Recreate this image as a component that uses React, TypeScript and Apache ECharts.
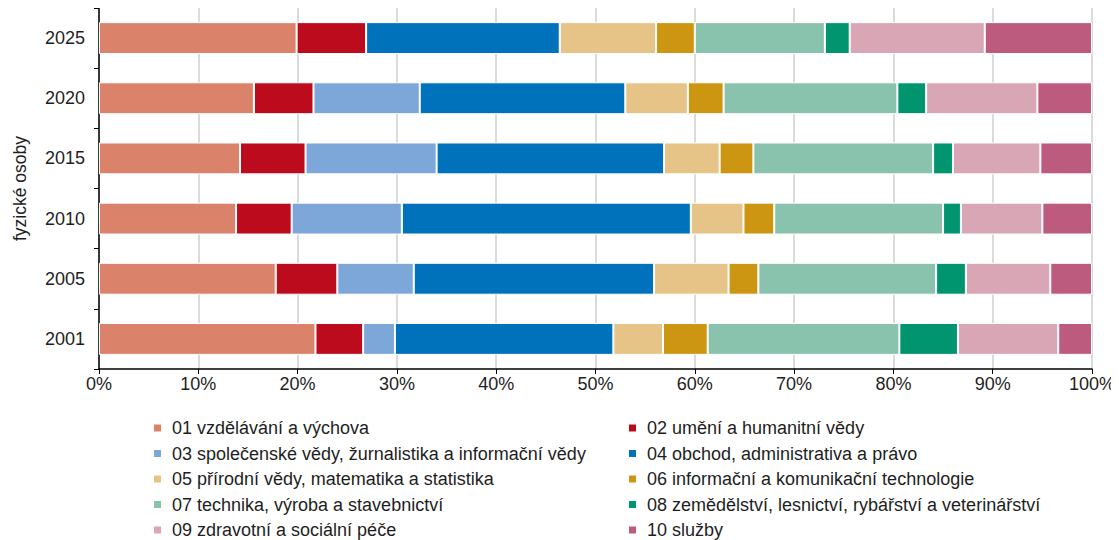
import React, { useEffect, useRef } from "react";
import * as echarts from "echarts";

const years = ["2001", "2005", "2010", "2015", "2020", "2025"];
const seriesNames = [
  "01 vzdělávání a výchova",
  "02 umění a humanitní vědy",
  "03 společenské vědy, žurnalistika a informační vědy",
  "04 obchod, administrativa a právo",
  "05 přírodní vědy, matematika a statistika",
  "06 informační a komunikační technologie",
  "07 technika, výroba a stavebnictví",
  "08 zemědělství, lesnictví, rybářství a veterinářství",
  "09 zdravotní a sociální péče",
  "10 služby",
];
const colors = [
  "#DB836A", "#BD0B1E", "#7DA7D8", "#0072BC", "#E6C488",
  "#CD9612", "#89C3AE", "#00956F", "#D8A6B5", "#BC5B7E",
];
// values per field, ordered as years (2001 … 2025), in % of total
const s01 = [21.8, 17.8, 13.8, 14.2, 15.6, 19.9];
const s02 = [4.8, 6.2, 5.6, 6.6, 6.0, 7.0];
const s03 = [3.2, 7.7, 11.1, 13.2, 10.7, 0];
const s04 = [22.0, 24.2, 29.1, 22.9, 20.7, 19.5];
const s05 = [5.0, 7.5, 5.3, 5.6, 6.3, 9.7];
const s06 = [4.5, 3.0, 3.1, 3.4, 3.6, 3.9];
const s07 = [19.3, 17.9, 17.0, 18.1, 17.5, 13.1];
const s08 = [5.9, 3.0, 1.8, 2.0, 2.9, 2.5];
const s09 = [10.1, 8.5, 8.2, 8.8, 11.2, 13.6];
const s10 = [3.4, 4.2, 5.0, 5.2, 5.5, 10.8];
const allValues = [s01, s02, s03, s04, s05, s06, s07, s08, s09, s10];
const xTicks = { min: 0, max: 100, interval: 10 };
const yAxisName = "fyzické osoby";

const FONT = "'Liberation Sans', Arial, sans-serif";
const TXT = "#1e1e1e";

export default function App() {
  const ref = useRef<HTMLDivElement>(null);
  useEffect(() => {
    if (!ref.current) return;
    const chart = echarts.init(ref.current, undefined, { renderer: "svg" });
    const legendCommon = {
      orient: "vertical" as const,
      top: 414,
      height: 200,
      itemWidth: 9,
      itemHeight: 9,
      itemGap: 7.5,
      icon: "rect",
      textStyle: { fontFamily: FONT, fontSize: 18, color: TXT, padding: [0, 0, 0, 5] },
    };
    chart.setOption({
      animation: false,
      textStyle: { fontFamily: FONT },
      grid: { left: 99, right: 27, top: 8, bottom: 171 },
      legend: [
        { ...legendCommon, left: 147, data: seriesNames.filter((_, i) => i % 2 === 0) },
        { ...legendCommon, left: 622, data: seriesNames.filter((_, i) => i % 2 === 1) },
      ],
      xAxis: {
        type: "value",
        min: xTicks.min,
        max: xTicks.max,
        interval: xTicks.interval,
        axisLine: { show: true, lineStyle: { color: "#000", width: 1.5 } },
        axisTick: { show: true, length: 5, lineStyle: { color: "#000" } },
        axisLabel: { formatter: "{value}%", fontSize: 18, color: TXT, margin: 6, fontFamily: FONT },
        splitLine: { show: true, lineStyle: { color: "#cfcfcf", width: 1.5 } },
      },
      yAxis: {
        type: "category",
        data: years,
        name: yAxisName,
        nameLocation: "middle",
        nameGap: 70,
        nameTextStyle: { fontSize: 17.5, color: TXT, fontFamily: FONT },
        axisLine: { show: true, lineStyle: { color: "#000", width: 1.5 } },
        axisTick: { show: true, length: 5, lineStyle: { color: "#000" } },
        axisLabel: { fontSize: 18, color: TXT, margin: 14, fontFamily: FONT },
        splitLine: { show: false },
      },
      series: seriesNames.map((name, i) => ({
        name,
        type: "bar",
        stack: "total",
        barWidth: "53%",
        data: allValues[i],
        itemStyle: { color: colors[i], borderColor: "#fff", borderWidth: 1 },
      })),
    });
    return () => chart.dispose();
  }, []);
  return <div ref={ref} style={{ width: 1119, height: 540, marginLeft: -8, marginTop: -8 }} />;
}
